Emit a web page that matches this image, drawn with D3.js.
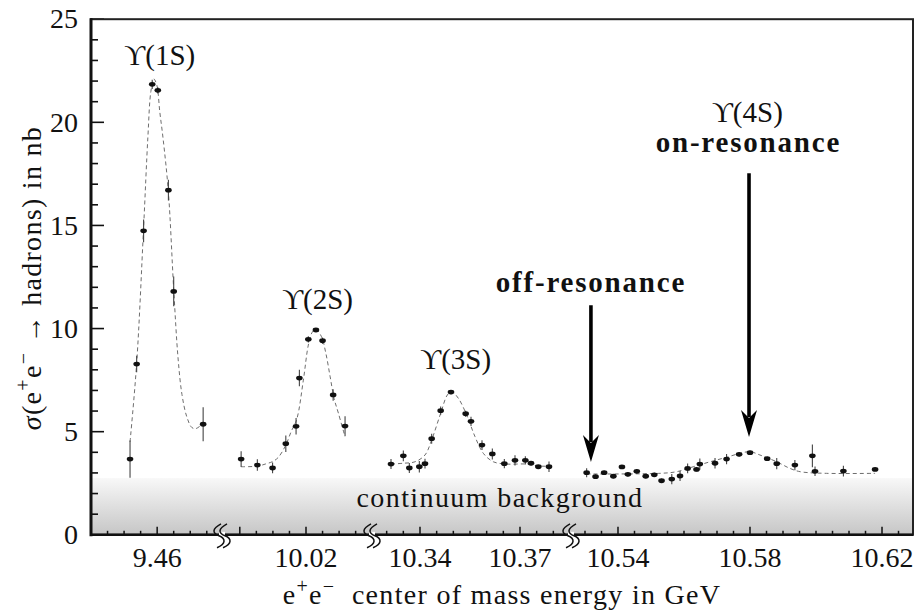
<!DOCTYPE html>
<html>
<head>
<meta charset="utf-8">
<script src="https://cdn.jsdelivr.net/npm/d3@7"></script>
</head>
<body style="margin:0">
<div id="fig"></div>
<script>
// measured points: [energy GeV, sigma nb, error nb]
const ups1S = [
  [9.4518, 3.67, 0.9], [9.4538, 8.28, 0.4], [9.4559, 14.74, 0.55], [9.4585, 21.84, 0.22],
  [9.4602, 21.55, 0.15], [9.4634, 16.71, 0.5], [9.4650, 11.80, 0.72], [9.4739, 5.36, 0.82]
];
const ups2S = [
  [10.0004, 3.67, 0.38], [10.0053, 3.38, 0.28], [10.0099, 3.24, 0.26], [10.0139, 4.42, 0.4],
  [10.0170, 5.26, 0.4], [10.0180, 7.60, 0.4], [10.0207, 9.48, 0.15], [10.0230, 9.93, 0.1],
  [10.0250, 9.41, 0.15], [10.0282, 6.78, 0.28], [10.0318, 5.27, 0.48]
];
const ups3S = [
  [10.3313, 3.43, 0.24], [10.3350, 3.83, 0.26], [10.3368, 3.24, 0.24], [10.3398, 3.30, 0.28],
  [10.3415, 3.45, 0.24], [10.3435, 4.66, 0.24], [10.3462, 6.02, 0.2], [10.3493, 6.92, 0.1],
  [10.3537, 5.87, 0.15], [10.3553, 5.50, 0.22], [10.3586, 4.35, 0.24], [10.3617, 3.92, 0.27],
  [10.3653, 3.45, 0.22], [10.3685, 3.61, 0.25], [10.3716, 3.61, 0.2], [10.3733, 3.47, 0.1],
  [10.3755, 3.30, 0.05], [10.3787, 3.30, 0.26]
];
const ups4S = [
  [10.5305, 3.01, 0.22], [10.5332, 2.82, 0.1], [10.5358, 3.01, 0.1], [10.5386, 2.84, 0.1],
  [10.5412, 3.29, 0.1], [10.5430, 2.93, 0.1], [10.5457, 3.08, 0.1], [10.5484, 2.84, 0.1],
  [10.5510, 2.91, 0.1], [10.5532, 2.62, 0.1], [10.5563, 2.70, 0.25], [10.5588, 2.85, 0.24],
  [10.5611, 3.22, 0.24], [10.5638, 3.17, 0.1], [10.5648, 3.43, 0.27], [10.5694, 3.47, 0.25],
  [10.5729, 3.67, 0.25], [10.5767, 3.90, 0.1], [10.5800, 3.98, 0.1], [10.5852, 3.69, 0.1],
  [10.5881, 3.45, 0.27], [10.5936, 3.38, 0.25], [10.5989, 3.83, 0.55], [10.5997, 3.08, 0.23],
  [10.6083, 3.09, 0.26], [10.6179, 3.17, 0.05]
];

// fitted line shapes: [energy GeV, sigma nb]
const fit1S = [
  [9.4518, 4.5], [9.4538, 8.3], [9.4559, 14.9], [9.4572, 19.3], [9.4581, 21.5], [9.4590, 22.1],
  [9.4599, 21.8], [9.4608, 20.5], [9.4618, 19.2], [9.4634, 16.6], [9.4650, 11.9], [9.4663, 8.6],
  [9.4675, 6.8], [9.4690, 5.7], [9.4705, 5.2], [9.4717, 5.15], [9.4739, 5.4]
];
const fit2S = [
  [10.0004, 3.3], [10.0053, 3.33], [10.0081, 3.45], [10.0099, 3.55], [10.0116, 3.75],
  [10.0139, 4.35], [10.0155, 5.0], [10.0172, 5.6], [10.0192, 7.5], [10.0207, 9.2],
  [10.0218, 9.8], [10.0230, 9.96], [10.0247, 9.6], [10.0260, 8.8], [10.0273, 7.66],
  [10.0285, 6.6], [10.0298, 5.89], [10.0318, 4.75]
];
const fit3S = [
  [10.3313, 3.43], [10.3350, 3.47], [10.3385, 3.54], [10.3415, 3.87], [10.3435, 4.60],
  [10.3462, 5.89], [10.3482, 6.78], [10.3495, 6.94], [10.3515, 6.62], [10.3540, 5.81],
  [10.3565, 4.76], [10.3590, 3.95], [10.3620, 3.54], [10.3660, 3.43], [10.3720, 3.43],
  [10.3760, 3.33], [10.3787, 3.33]
];
const fit4S = [
  [10.5305, 2.95], [10.5527, 2.98], [10.5578, 3.06], [10.5628, 3.30], [10.5679, 3.54],
  [10.5729, 3.76], [10.5770, 3.95], [10.5800, 4.03], [10.5830, 3.87], [10.5881, 3.54],
  [10.5921, 3.22], [10.5952, 3.06], [10.6032, 2.98], [10.6179, 2.98]
];

// broken energy axis
const segmentDomains = [[9.44, 9.4796], [9.99462, 10.03994], [10.3256, 10.3853], [10.52576, 10.62939]];
const majorTicks = [[9.46], [10.00, 10.02], [10.34, 10.37], [10.54, 10.58, 10.62]];
const tickLabels = [[9.46], [10.02], [10.34, 10.37], [10.54, 10.58, 10.62]];
const yTicks = [0, 5, 10, 15, 20, 25];
const continuumLevel = 2.75;

const width = 915, height = 611;
const plotLeft = 91, plotRight = 913, plotTop = 19.2, plotBottom = 534.8;
const breaks = [plotLeft, 222, 372, 571, plotRight];
const fontName = "\"Liberation Serif\", \"Times New Roman\"";

const svg = d3.select("#fig").append("svg")
  .attr("width", width).attr("height", height)
  .style("display", "block");

// every label goes through here so the family is set inline
function label(parent, size) {
  return parent.append("text")
    .style("font-family", fontName)
    .style("font-size", size + "px")
    .style("fill", "#111");
}

const y = d3.scaleLinear().domain([0, 25]).range([plotBottom, plotTop]);
const xs = segmentDomains.map((d, i) => d3.scaleLinear().domain(d).range([breaks[i], breaks[i + 1]]));

// continuum band
const grad = svg.append("defs").append("linearGradient")
  .attr("id", "cont").attr("x1", 0).attr("y1", 0).attr("x2", 0).attr("y2", 1);
grad.append("stop").attr("offset", "0%").attr("stop-color", "#f8f8f8");
grad.append("stop").attr("offset", "100%").attr("stop-color", "#c6c6c6");

svg.append("rect")
  .attr("x", plotLeft).attr("y", y(continuumLevel))
  .attr("width", plotRight - plotLeft).attr("height", y(0) - y(continuumLevel))
  .attr("fill", "url(#cont)");

label(svg, 28)
  .attr("x", xs[2](10.364)).attr("y", y(1.35))
  .attr("text-anchor", "middle")
  .style("letter-spacing", "1.4px")
  .text("continuum background");

// fits and data
const series = [ups1S, ups2S, ups3S, ups4S];
const fits = [fit1S, fit2S, fit3S, fit4S];

fits.forEach((f, i) => {
  const line = d3.line()
    .x(d => xs[i](d[0]))
    .y(d => y(d[1]))
    .curve(d3.curveCatmullRom.alpha(0.5));
  svg.append("path")
    .attr("d", line(f))
    .attr("fill", "none")
    .attr("stroke", "#6e6e6e")
    .attr("stroke-width", 1)
    .attr("stroke-dasharray", "4,3");
});

series.forEach((s, i) => {
  const g = svg.append("g");
  g.selectAll("line")
    .data(s)
    .join("line")
    .attr("x1", d => xs[i](d[0])).attr("x2", d => xs[i](d[0]))
    .attr("y1", d => y(d[1] - d[2])).attr("y2", d => y(d[1] + d[2]))
    .attr("stroke", "#444").attr("stroke-width", 1.1);
  g.selectAll("ellipse")
    .data(s)
    .join("ellipse")
    .attr("cx", d => xs[i](d[0]))
    .attr("cy", d => y(d[1]))
    .attr("rx", 3.3).attr("ry", 2.4)
    .attr("fill", "#111");
});

// y axis ticks
const yg = svg.append("g");
d3.range(0, 26).forEach(v => {
  const major = v % 5 === 0;
  yg.append("line")
    .attr("x1", plotLeft).attr("x2", plotLeft + (major ? 13 : 7))
    .attr("y1", y(v)).attr("y2", y(v))
    .attr("stroke", "#111").attr("stroke-width", 1.6);
});
yTicks.forEach(d => {
  label(yg, 28)
    .attr("x", plotLeft - 13).attr("y", y(d))
    .attr("dy", "0.33em")
    .attr("text-anchor", "end")
    .text(d);
});

// x axis ticks per segment
xs.forEach((x, i) => {
  const [d0, d1] = x.domain();
  const g = svg.append("g");
  for (let k = Math.ceil(d0 * 200 - 1e-6); k <= Math.floor(d1 * 200 + 1e-6); k++) {
    const v = k / 200;
    const px = x(v);
    if (px < breaks[i] + 5 || px > breaks[i + 1] - 5) continue;
    const major = majorTicks[i].some(m => Math.abs(m - v) < 1e-6);
    g.append("line")
      .attr("x1", px).attr("x2", px)
      .attr("y1", plotBottom).attr("y2", plotBottom - (major ? 8 : 4))
      .attr("stroke", "#111").attr("stroke-width", 1.5);
  }
  tickLabels[i].forEach(d => {
    label(g, 28)
      .attr("x", x(d)).attr("y", 567)
      .attr("text-anchor", "middle")
      .text(d3.format(".2f")(d));
  });
});

// frame
svg.append("rect")
  .attr("x", plotLeft).attr("y", plotTop)
  .attr("width", plotRight - plotLeft).attr("height", plotBottom - plotTop)
  .attr("fill", "none").attr("stroke", "#222").attr("stroke-width", 2);
svg.append("line").attr("x1", plotLeft).attr("x2", plotLeft).attr("y1", plotTop - 1).attr("y2", plotBottom + 1.5)
  .attr("stroke", "#111").attr("stroke-width", 3);
svg.append("line").attr("x1", plotLeft).attr("x2", plotRight).attr("y1", plotBottom).attr("y2", plotBottom)
  .attr("stroke", "#111").attr("stroke-width", 2.6);

// axis break marks
breaks.slice(1, 4).forEach(bx => {
  const g = svg.append("g");
  g.append("rect").attr("x", bx - 3).attr("y", plotBottom - 3).attr("width", 6).attr("height", 6).attr("fill", "#fff");
  [-3, 3].forEach(o => {
    const c = bx + o;
    g.append("path")
      .attr("d", `M${c + 2},${plotBottom - 11} C${c - 7},${plotBottom - 6} ${c - 7},${plotBottom - 2} ${c},${plotBottom + 1} C${c + 7},${plotBottom + 4} ${c + 7},${plotBottom + 9} ${c - 2},${plotBottom + 13}`)
      .attr("fill", "none").attr("stroke", "#111").attr("stroke-width", 1.5);
  });
});

// resonance labels
function upsLabel(x, yy, n) {
  label(svg, 29)
    .attr("x", x).attr("y", yy)
    .attr("text-anchor", "middle")
    .text(`ϒ(${n}S)`);
}
upsLabel(xs[0](9.4608), y(22.8), 1);
upsLabel(xs[1](10.0235), y(10.95), 2);
upsLabel(xs[2](10.3507), y(8.04), 3);
upsLabel(xs[3](10.5792), y(20.02), 4);

label(svg, 29)
  .attr("x", xs[3](10.5795)).attr("y", y(18.57))
  .attr("text-anchor", "middle")
  .style("font-weight", "bold").style("letter-spacing", "1.8px")
  .text("on-resonance");
label(svg, 29)
  .attr("x", xs[3](10.5318)).attr("y", y(11.78))
  .attr("text-anchor", "middle")
  .style("font-weight", "bold").style("letter-spacing", "1.8px")
  .text("off-resonance");

// arrows
function arrow(x, y0, y1) {
  svg.append("line")
    .attr("x1", x).attr("x2", x).attr("y1", y0).attr("y2", y1 - 20)
    .attr("stroke", "#000").attr("stroke-width", 3.6);
  svg.append("path")
    .attr("d", `M${x - 8},${y1 - 27} L${x},${y1 - 19} L${x + 8},${y1 - 27} L${x},${y1} Z`)
    .attr("fill", "#000");
}
arrow(xs[3](10.5318), y(11.13), y(3.53));
arrow(xs[3](10.5797), y(17.53), y(4.74));

// axis titles
function sup(t, s) {
  t.append("tspan").attr("dy", -11).style("font-family", fontName).style("font-size", "20px").text(s);
}
function txt(t, s) {
  t.append("tspan").attr("dy", 11).style("font-family", fontName).text(s);
}
const xt = label(svg, 28)
  .attr("x", (plotLeft + plotRight) / 2).attr("y", 604)
  .attr("text-anchor", "middle")
  .style("letter-spacing", "1.3px");
xt.append("tspan").style("font-family", fontName).text("e");
sup(xt, "+");
txt(xt, "e");
sup(xt, "−");
txt(xt, "\u00a0 center of mass energy in GeV");

const yt = label(svg, 28)
  .attr("transform", `translate(41,${278}) rotate(-90)`)
  .attr("text-anchor", "middle")
  .style("letter-spacing", "1.3px");
yt.append("tspan").style("font-family", fontName).style("font-style", "italic").text("σ");
yt.append("tspan").style("font-family", fontName).text("(e");
sup(yt, "+");
txt(yt, "e");
sup(yt, "−");
txt(yt, " → hadrons) in nb");
</script>
</body>
</html>
